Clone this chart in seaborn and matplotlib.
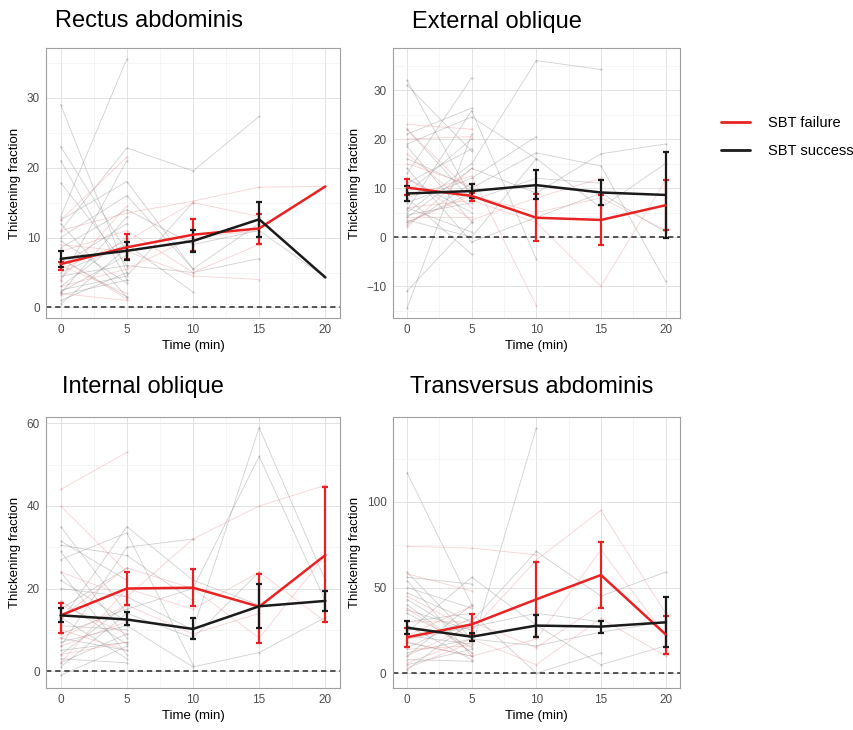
import numpy as np
import pandas as pd
import matplotlib
matplotlib.use("Agg")
import matplotlib.pyplot as plt
from matplotlib.lines import Line2D
from matplotlib.ticker import MultipleLocator
import seaborn as sns

# time points (min)
times = [0, 5, 10, 15, 20]
nan = np.nan

# ---- group means with error bar limits, per muscle ----
rect_fail = [6.2, 8.6, 10.4, 11.3, 17.3]
rect_fail_lo = [5.3, 7.0, 8.1, 9.1, nan]
rect_fail_hi = [6.5, 10.5, 12.6, 13.4, nan]
rect_succ = [6.95, 8.1, 9.5, 12.6, 4.3]
rect_succ_lo = [5.85, 6.8, 7.9, 10.1, nan]
rect_succ_hi = [8.05, 9.3, 11.1, 15.1, nan]

ext_fail = [10.1, 8.4, 3.95, 3.5, 6.5]
ext_fail_lo = [8.5, 7.4, -0.7, -1.7, 1.4]
ext_fail_hi = [11.8, 9.0, 8.7, 8.5, 11.6]
ext_succ = [8.9, 9.4, 10.6, 9.1, 8.6]
ext_succ_lo = [7.4, 7.9, 7.7, 6.6, -0.1]
ext_succ_hi = [10.4, 10.9, 13.6, 11.6, 17.4]

int_fail = [13.5, 20.0, 20.2, 15.6, 28.1]
int_fail_lo = [9.3, 16.0, 15.7, 6.9, 11.9]
int_fail_hi = [16.5, 24.1, 24.7, 23.5, 44.6]
int_succ = [13.5, 12.5, 10.2, 15.7, 17.0]
int_succ_lo = [12.0, 11.2, 7.7, 10.5, 14.5]
int_succ_hi = [15.3, 14.2, 12.9, 21.1, 19.4]

trans_fail = [21.0, 28.5, 43.1, 57.3, 22.7]
trans_fail_lo = [15.5, 22.7, 21.3, 38.3, 11.1]
trans_fail_hi = [26.2, 34.4, 64.7, 76.4, 33.6]
trans_succ = [26.6, 21.3, 27.8, 27.2, 29.7]
trans_succ_lo = [22.7, 18.9, 21.3, 23.3, 15.5]
trans_succ_hi = [30.4, 23.3, 34.0, 30.4, 44.3]

# ---- individual patient trajectories (approximate) ----
rect_pat_succ = [
    [29, 5], [23, 8], [21, 4], [17.8, 6], [13, 35.5], [12.5, 18, 5.5],
    [11, 22.8, 19.5, 27.3], [9.5, 3.5], [8.5, 14, 9, 11, 4.3], [7, 1.5],
    [6, 12], [5, 9, 2.2], [4.5, 6, 5, 7], [3.8, 21], [3, 10], [2.5, 4.5, 15],
    [2.2, 7.5], [2, 13], [1.8, 3.9], [1, 5], [0.5, 8.5], [12, 1.5],
    [10, 16, 5.5, 12],
]
rect_pat_fail = [
    [12.5, 21.5], [11, 13.5, 15.2, 17.2, 17.3], [9, 8, 4.5, 4.0], [7, 1.2],
    [5.5, 9.5, 15, 13], [4, 14.5], [3, 5.5, 10, 11], [2, 1], [6, 2],
    [8, 11, 5, 9],
]
ext_pat_succ = [
    [32, 8], [31, 17.5], [21, 26.3], [19, 24.5, 16], [18.5, 3],
    [16, 10, 17.2, 14.5, -9], [13, 32.5], [12, 5], [11, 18], [5, 15, 36, 34.2],
    [9, 20], [8, -3.5], [7, 12, 20.5], [6, 1], [5.5, 25.8, -4.5], [4.5, 7],
    [4, 14, 9, 17, 19], [3.5, 0, 16, 6, 15], [3, 9], [2.5, 11], [-11, 3],
    [-14.5, 21], [22, 7.5, 12, 11], [14, -1, 4, 9, 1],
]
ext_pat_fail = [
    [23, 22], [22, 9], [20, 20.5], [17, 6], [15, 10.5], [12, 3.5, 8, 12],
    [8, 12.5, -14], [6, 7.5, 3, -10, 11.6], [4, 4], [3, 8.5, 5, 8, 1.4],
    [2, 14],
]
int_pat_succ = [
    [35, 14], [31.5, 22], [30.5, 28, 17], [29, 8], [27, 33.5, 1.5], [24, 4],
    [22, 12], [20, 18, 10, 59, 22], [17, 6.5], [15, 25], [13, 3], [11, 10],
    [9, 15, 20, 52, 17], [8, 5], [7, 11, 1, 4.5, 13], [6, 30, 32], [5, 7],
    [4, 16], [3, 2], [2, 9], [1, 14, 8, 24], [-1, 6], [12, 35, 22, 16],
]
int_pat_fail = [
    [44, 53], [40, 24], [24, 18, 32, 40, 45], [16, 9], [13, 25, 20, 8, 28],
    [10, 5], [8, 16, 9, 14], [6, 12], [4, 7], [2, 20, 15, 24, 12],
]
trans_pat_succ = [
    [117, 40], [59, 20], [56, 52], [54, 10], [50, 38], [47, 30, 71, 45, 59],
    [43, 20], [40, 12], [37, 25], [35, 15, 143], [30, 35, 0, 12], [28, 8],
    [26, 22], [24, 56, 28, 5, 16], [22, 17], [20, 27, 35, 30], [18, 10],
    [15, 32], [12, 20, 16, 24, 30], [10, 40], [8, 7], [5, 14], [2, 30],
]
trans_pat_fail = [
    [74, 73, 69], [58, 48], [45, 25, 66, 95, 35], [38, 12], [30, 30, 15, 40],
    [22, 39], [18, 10, 20, 72, 22], [14, 16], [10, 28], [6, 20, 5, 32, 10],
    [3, 18],
]

RED = "#e82222"
BLACK = "#1a1a1a"

sns.set_style("white")
plt.rcParams["font.family"] = ["Liberation Sans", "DejaVu Sans"]
plt.rcParams["text.color"] = "black"
plt.rcParams["axes.labelcolor"] = "black"


def long_patients(pats, group, start):
    rows = []
    for i, p in enumerate(pats):
        for t, v in zip(times, p):
            rows.append({"time": t, "value": v, "pid": start + i, "group": group})
    return rows


panels = [
    ("Rectus abdominis", rect_pat_succ, rect_pat_fail,
     (rect_fail, rect_fail_lo, rect_fail_hi), (rect_succ, rect_succ_lo, rect_succ_hi),
     (-1.5, 37.1), 10, [0.054, 0.5644, 0.344, 0.370], (55, 21)),
    ("External oblique", ext_pat_succ, ext_pat_fail,
     (ext_fail, ext_fail_lo, ext_fail_hi), (ext_succ, ext_succ_lo, ext_succ_hi),
     (-16.5, 38.6), 10, [0.460, 0.5644, 0.336, 0.370], (412, 22)),
    ("Internal oblique", int_pat_succ, int_pat_fail,
     (int_fail, int_fail_lo, int_fail_hi), (int_succ, int_succ_lo, int_succ_hi),
     (-4.1, 61.5), 20, [0.054, 0.0575, 0.344, 0.371], (62, 387)),
    ("Transversus abdominis", trans_pat_succ, trans_pat_fail,
     (trans_fail, trans_fail_lo, trans_fail_hi), (trans_succ, trans_succ_lo, trans_succ_hi),
     (-8.6, 149.3), 50, [0.460, 0.0575, 0.336, 0.371], (410, 387)),
]

fig = plt.figure(figsize=(8.54, 7.30), dpi=100)

for title, psucc, pfail, fail, succ, ylim, ystep, pos, tpos in panels:
    ax = fig.add_axes(pos)
    ax.set_axisbelow(True)
    ax.xaxis.set_major_locator(MultipleLocator(5))
    ax.xaxis.set_minor_locator(MultipleLocator(2.5))
    ax.yaxis.set_major_locator(MultipleLocator(ystep))
    ax.yaxis.set_minor_locator(MultipleLocator(ystep / 2))
    ax.grid(which="major", color="#e3e3e3", lw=0.7)
    ax.grid(which="minor", color="#f1f1f1", lw=0.5)

    df = pd.DataFrame(long_patients(psucc, "success", 0) +
                      long_patients(pfail, "failure", 100)).dropna()
    sns.lineplot(data=df, x="time", y="value", units="pid", estimator=None,
                 hue="group", palette={"success": "#858585", "failure": "#e88a8a"},
                 lw=0.6, alpha=0.38, marker="o", markersize=1.6,
                 markeredgewidth=0, legend=False, ax=ax)

    ax.axhline(0, color="#2a2a2a", lw=1.1, ls=(0, (3.5, 2.5)), zorder=2)

    for (m, lo, hi), col in ((fail, RED), (succ, BLACK)):
        m = np.array(m); lo = np.array(lo); hi = np.array(hi)
        ok = ~np.isnan(lo)
        ax.errorbar(np.array(times)[ok], m[ok], yerr=[m[ok] - lo[ok], hi[ok] - m[ok]],
                    fmt="none", ecolor=col, elinewidth=1.6, capsize=2.5,
                    capthick=1.6, zorder=4)
        sm = pd.DataFrame({"time": times, "mean": m})
        sns.lineplot(data=sm, x="time", y="mean", color=col, lw=1.8, ax=ax, zorder=5)

    ax.set_xlim(-1.1, 21.1)
    ax.set_ylim(*ylim)
    for s in ax.spines.values():
        s.set_color("#a0a0a0")
        s.set_linewidth(0.8)
    ax.tick_params(axis="both", which="major", length=2.5, width=0.6,
                   color="#555555", labelsize=8.5, labelcolor="#4d4d4d", pad=2)
    ax.tick_params(which="minor", length=0)
    ax.set_xlabel("Time (min)", fontsize=9.5, labelpad=3)
    ax.set_ylabel("Thickening fraction", fontsize=9.5, labelpad=4)

    fig.text(tpos[0] / 854, 1 - tpos[1] / 730, title, fontsize=17,
             ha="left", va="center", color="black")

handles = [Line2D([], [], color=RED, lw=2), Line2D([], [], color=BLACK, lw=2)]
fig.legend(handles, ["SBT failure", "SBT success"], loc="center left",
           bbox_to_anchor=(708 / 854, 1 - 137 / 730), frameon=False,
           fontsize=10.5, handlelength=2.0, labelspacing=1.0, handletextpad=1.2)

fig.savefig("out.png", dpi=100)
